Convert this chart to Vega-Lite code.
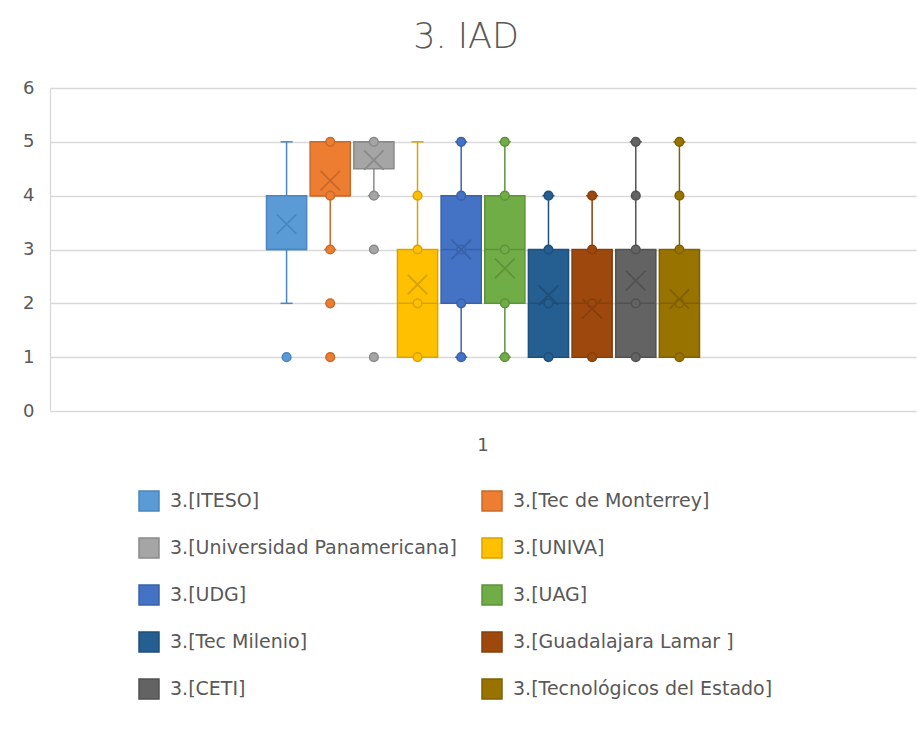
{
  "$schema": "https://vega.github.io/schema/vega-lite/v6.json",
  "width": 866,
  "height": 323,
  "autosize": {"type": "none"},
  "padding": {"left": 50, "top": 88, "right": 1, "bottom": 327},
  "background": "white",
  "config": {"view": {"stroke": null}, "font": "DejaVu Sans"},
  "title": {"text": "3. IAD", "fontSize": 35, "font": "DejaVu Sans", "fontWeight": 200, "color": "#595959", "frame": "group", "anchor": "middle", "offset": 24, "dx": -17},
  "datasets": {
    "boxes": [
      {"cat": "1", "series": "3.[ITESO]", "q1": 3, "q3": 4, "median": 3, "lo": 2, "hi": 5, "mean": 3.47},
      {"cat": "1", "series": "3.[Tec de Monterrey]", "q1": 4, "q3": 5, "median": 4, "lo": 3, "hi": 5, "mean": 4.28},
      {"cat": "1", "series": "3.[Universidad Panamericana]", "q1": 4.5, "q3": 5, "median": 5, "lo": 4, "hi": 5, "mean": 4.66},
      {"cat": "1", "series": "3.[UNIVA]", "q1": 1, "q3": 3, "median": 2, "lo": 1, "hi": 5, "mean": 2.35},
      {"cat": "1", "series": "3.[UDG]", "q1": 2, "q3": 4, "median": 3, "lo": 1, "hi": 5, "mean": 3.0},
      {"cat": "1", "series": "3.[UAG]", "q1": 2, "q3": 4, "median": 3, "lo": 1, "hi": 5, "mean": 2.65},
      {"cat": "1", "series": "3.[Tec Milenio]", "q1": 1, "q3": 3, "median": 2, "lo": 1, "hi": 4, "mean": 2.15},
      {"cat": "1", "series": "3.[Guadalajara Lamar ]", "q1": 1, "q3": 3, "median": 2, "lo": 1, "hi": 4, "mean": 1.9},
      {"cat": "1", "series": "3.[CETI]", "q1": 1, "q3": 3, "median": 2, "lo": 1, "hi": 5, "mean": 2.42},
      {"cat": "1", "series": "3.[Tecnológicos del Estado]", "q1": 1, "q3": 3, "median": 2, "lo": 1, "hi": 5, "mean": 2.08}
    ],
    "points": [
      {"cat": "1", "series": "3.[ITESO]", "value": 1},
      {"cat": "1", "series": "3.[Tec de Monterrey]", "value": 5},
      {"cat": "1", "series": "3.[Tec de Monterrey]", "value": 4},
      {"cat": "1", "series": "3.[Tec de Monterrey]", "value": 3},
      {"cat": "1", "series": "3.[Tec de Monterrey]", "value": 2},
      {"cat": "1", "series": "3.[Tec de Monterrey]", "value": 1},
      {"cat": "1", "series": "3.[Universidad Panamericana]", "value": 5},
      {"cat": "1", "series": "3.[Universidad Panamericana]", "value": 4},
      {"cat": "1", "series": "3.[Universidad Panamericana]", "value": 3},
      {"cat": "1", "series": "3.[Universidad Panamericana]", "value": 1},
      {"cat": "1", "series": "3.[UNIVA]", "value": 4},
      {"cat": "1", "series": "3.[UNIVA]", "value": 3},
      {"cat": "1", "series": "3.[UNIVA]", "value": 2},
      {"cat": "1", "series": "3.[UNIVA]", "value": 1},
      {"cat": "1", "series": "3.[UDG]", "value": 5},
      {"cat": "1", "series": "3.[UDG]", "value": 4},
      {"cat": "1", "series": "3.[UDG]", "value": 3},
      {"cat": "1", "series": "3.[UDG]", "value": 2},
      {"cat": "1", "series": "3.[UDG]", "value": 1},
      {"cat": "1", "series": "3.[UAG]", "value": 5},
      {"cat": "1", "series": "3.[UAG]", "value": 4},
      {"cat": "1", "series": "3.[UAG]", "value": 3},
      {"cat": "1", "series": "3.[UAG]", "value": 2},
      {"cat": "1", "series": "3.[UAG]", "value": 1},
      {"cat": "1", "series": "3.[Tec Milenio]", "value": 4},
      {"cat": "1", "series": "3.[Tec Milenio]", "value": 3},
      {"cat": "1", "series": "3.[Tec Milenio]", "value": 2},
      {"cat": "1", "series": "3.[Tec Milenio]", "value": 1},
      {"cat": "1", "series": "3.[Guadalajara Lamar ]", "value": 4},
      {"cat": "1", "series": "3.[Guadalajara Lamar ]", "value": 3},
      {"cat": "1", "series": "3.[Guadalajara Lamar ]", "value": 2},
      {"cat": "1", "series": "3.[Guadalajara Lamar ]", "value": 1},
      {"cat": "1", "series": "3.[CETI]", "value": 5},
      {"cat": "1", "series": "3.[CETI]", "value": 4},
      {"cat": "1", "series": "3.[CETI]", "value": 3},
      {"cat": "1", "series": "3.[CETI]", "value": 2},
      {"cat": "1", "series": "3.[CETI]", "value": 1},
      {"cat": "1", "series": "3.[Tecnológicos del Estado]", "value": 5},
      {"cat": "1", "series": "3.[Tecnológicos del Estado]", "value": 4},
      {"cat": "1", "series": "3.[Tecnológicos del Estado]", "value": 3},
      {"cat": "1", "series": "3.[Tecnológicos del Estado]", "value": 2},
      {"cat": "1", "series": "3.[Tecnológicos del Estado]", "value": 1}
    ]
  },
  "encoding": {
    "x": {
      "field": "cat", "type": "nominal",
      "scale": {"paddingInner": 0, "paddingOuter": 0.5},
      "axis": {"title": null, "labelAngle": 0, "domain": false, "ticks": false, "grid": false, "labelFontSize": 18, "labelColor": "#595959", "labelPadding": 25, "labelFont": "DejaVu Sans"}
    },
    "xOffset": {
      "field": "series", "type": "nominal",
      "scale": {"paddingInner": 0.08, "paddingOuter": 0, "domain": ["3.[ITESO]", "3.[Tec de Monterrey]", "3.[Universidad Panamericana]", "3.[UNIVA]", "3.[UDG]", "3.[UAG]", "3.[Tec Milenio]", "3.[Guadalajara Lamar ]", "3.[CETI]", "3.[Tecnológicos del Estado]"]}
    }
  },
  "layer": [
    {
      "data": {"name": "boxes"},
      "mark": {"type": "rule", "strokeWidth": 1.5},
      "encoding": {
        "y": {"field": "lo", "type": "quantitative", "scale": {"domain": [0, 6]},
          "axis": {"title": null, "values": [0, 1, 2, 3, 4, 5, 6], "format": "d", "grid": true, "gridColor": "#D9D9D9", "gridWidth": 1.3, "domain": true, "domainColor": "#D9D9D9", "domainWidth": 1.3, "ticks": false, "labelFontSize": 18, "labelColor": "#595959", "labelPadding": 16, "labelFont": "DejaVu Sans"}},
        "y2": {"field": "hi"},
        "stroke": {"field": "series", "type": "nominal",
          "scale": {"domain": ["3.[ITESO]", "3.[Tec de Monterrey]", "3.[Universidad Panamericana]", "3.[UNIVA]", "3.[UDG]", "3.[UAG]", "3.[Tec Milenio]", "3.[Guadalajara Lamar ]", "3.[CETI]", "3.[Tecnológicos del Estado]"],
            "range": ["#4A86C0", "#C9692A", "#8A8A8A", "#D9A300", "#3A62A8", "#5E933B", "#1F4F7B", "#86400C", "#525252", "#806000"]},
          "legend": {"title": null, "orient": "none", "legendX": 88, "legendY": 402, "direction": "horizontal", "columns": 2, "columnPadding": 22, "rowPadding": 21, "symbolType": "square", "symbolSize": 400, "symbolStrokeWidth": 1.5, "labelFontSize": 19, "labelColor": "#595959", "labelLimit": 500, "labelOffset": 10, "labelFont": "DejaVu Sans"}}
      }
    },
    {
      "data": {"name": "boxes"},
      "mark": {"type": "point", "shape": "M-1,0L1,0", "filled": false, "size": 144, "strokeWidth": 1.5, "opacity": 1},
      "encoding": {"y": {"field": "lo", "type": "quantitative"}, "stroke": {"field": "series", "type": "nominal"}}
    },
    {
      "data": {"name": "boxes"},
      "mark": {"type": "point", "shape": "M-1,0L1,0", "filled": false, "size": 144, "strokeWidth": 1.5, "opacity": 1},
      "encoding": {"y": {"field": "hi", "type": "quantitative"}, "stroke": {"field": "series", "type": "nominal"}}
    },
    {
      "data": {"name": "boxes"},
      "mark": {"type": "bar", "strokeWidth": 1.5},
      "encoding": {
        "y": {"field": "q1", "type": "quantitative"},
        "y2": {"field": "q3"},
        "fill": {"field": "series", "type": "nominal",
          "scale": {"domain": ["3.[ITESO]", "3.[Tec de Monterrey]", "3.[Universidad Panamericana]", "3.[UNIVA]", "3.[UDG]", "3.[UAG]", "3.[Tec Milenio]", "3.[Guadalajara Lamar ]", "3.[CETI]", "3.[Tecnológicos del Estado]"],
            "range": ["#5B9BD5", "#ED7D31", "#A5A5A5", "#FFC000", "#4472C4", "#70AD47", "#255E91", "#9E480E", "#636363", "#997300"]},
          "legend": {"title": null, "orient": "none", "legendX": 88, "legendY": 402, "direction": "horizontal", "columns": 2, "columnPadding": 22, "rowPadding": 21, "symbolType": "square", "symbolSize": 400, "symbolStrokeWidth": 1.5, "labelFontSize": 19, "labelColor": "#595959", "labelLimit": 500, "labelOffset": 10, "labelFont": "DejaVu Sans"}},
        "stroke": {"field": "series", "type": "nominal"}
      }
    },
    {
      "data": {"name": "boxes"},
      "mark": {"type": "point", "shape": "M-1,0L1,0", "filled": false, "size": 1600, "strokeWidth": 1.5, "opacity": 1},
      "encoding": {"y": {"field": "median", "type": "quantitative"}, "stroke": {"field": "series", "type": "nominal"}}
    },
    {
      "data": {"name": "points"},
      "mark": {"type": "circle", "size": 75, "strokeWidth": 1.5, "opacity": 1},
      "encoding": {"y": {"field": "value", "type": "quantitative"}, "fill": {"field": "series", "type": "nominal"}, "stroke": {"field": "series", "type": "nominal"}}
    },
    {
      "data": {"name": "boxes"},
      "mark": {"type": "point", "shape": "M-1,-1L1,1M-1,1L1,-1", "filled": false, "size": 380, "strokeWidth": 1.8, "opacity": 1},
      "encoding": {"y": {"field": "mean", "type": "quantitative"}, "stroke": {"field": "series", "type": "nominal"}}
    }
  ]
}
